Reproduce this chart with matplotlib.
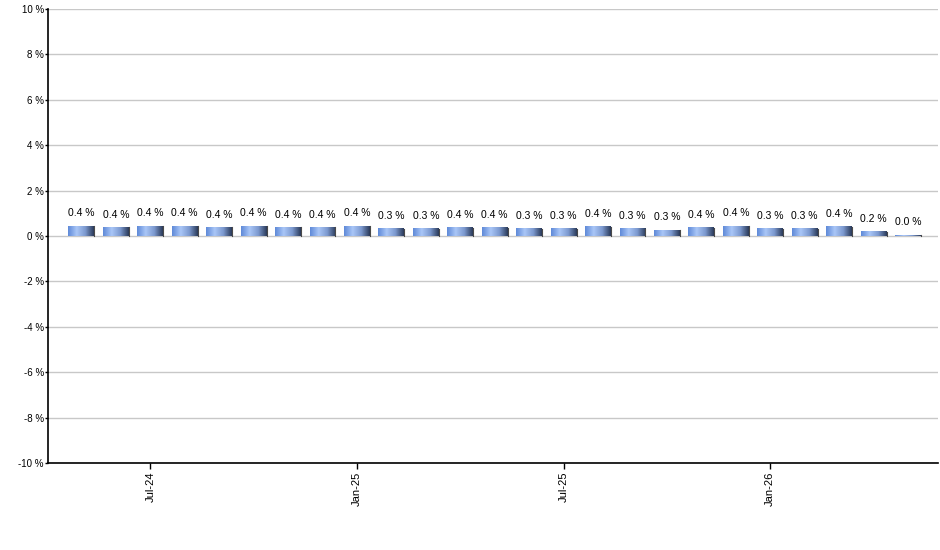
import numpy as np
import matplotlib
matplotlib.use("Agg")
import matplotlib.pyplot as plt
from matplotlib.colors import LinearSegmentedColormap

plt.rcParams['font.family'] = ['Liberation Sans', 'DejaVu Sans']

months = ['May-24', 'Jun-24', 'Jul-24', 'Aug-24', 'Sep-24', 'Oct-24', 'Nov-24', 'Dec-24',
          'Jan-25', 'Feb-25', 'Mar-25', 'Apr-25', 'May-25', 'Jun-25', 'Jul-25', 'Aug-25',
          'Sep-25', 'Oct-25', 'Nov-25', 'Dec-25', 'Jan-26', 'Feb-26', 'Mar-26', 'Apr-26', 'May-26']
values = [0.44, 0.38, 0.44, 0.44, 0.38, 0.44, 0.38, 0.38, 0.44, 0.31, 0.31, 0.36, 0.36,
          0.31, 0.31, 0.40, 0.31, 0.26, 0.37, 0.44, 0.31, 0.31, 0.40, 0.18, 0.04]
shown_ticks = ['Jul-24', 'Jan-25', 'Jul-25', 'Jan-26']

fig = plt.figure(figsize=(9.4, 5.5), dpi=100)
ax = fig.add_axes([48 / 940, 1 - 463 / 550, 890 / 940, 454 / 550])

grad = LinearSegmentedColormap.from_list('bar', ['#5f8ad8', '#a9c6f7', '#7d9ad0', '#2b3b5b'],
                                         N=256)
grad_img = np.linspace(0, 1, 64).reshape(1, -1)
width = 0.75
x = np.arange(len(values))
for xi, v in zip(x, values):
    ax.imshow(grad_img, cmap=grad, aspect='auto', extent=(xi - width / 2, xi + width / 2, 0, v),
              zorder=3, interpolation='bilinear')
    ax.plot([xi + width / 2, xi + width / 2], [0, v], color='#4a4a4a', lw=0.8, zorder=4)
    ax.annotate(f'{v:.1f} %', (xi, v), xytext=(0, 5.5), textcoords='offset points',
                ha='center', va='bottom', fontsize=7.5, color='black', zorder=5)

ax.set_xlim(-0.97, 24.87)
ax.set_ylim(-10, 10)
ax.set_yticks(np.arange(-10, 11, 2))
ax.set_yticklabels([f'{t} %' for t in range(-10, 11, 2)], fontsize=7)
ax.set_xticks([months.index(m) for m in shown_ticks])
ax.set_xticklabels(shown_ticks, rotation=90, fontsize=8)
ax.tick_params(axis='x', length=4, width=1, pad=2)
ax.tick_params(axis='y', length=2, width=1, pad=1)
ax.yaxis.grid(True, color='#c8c8c8', lw=1)
ax.set_axisbelow(True)
for s in ['top', 'right']:
    ax.spines[s].set_visible(False)
ax.spines['left'].set_linewidth(1.2)
ax.spines['bottom'].set_linewidth(1.2)

fig.savefig('out.png', dpi=100)
